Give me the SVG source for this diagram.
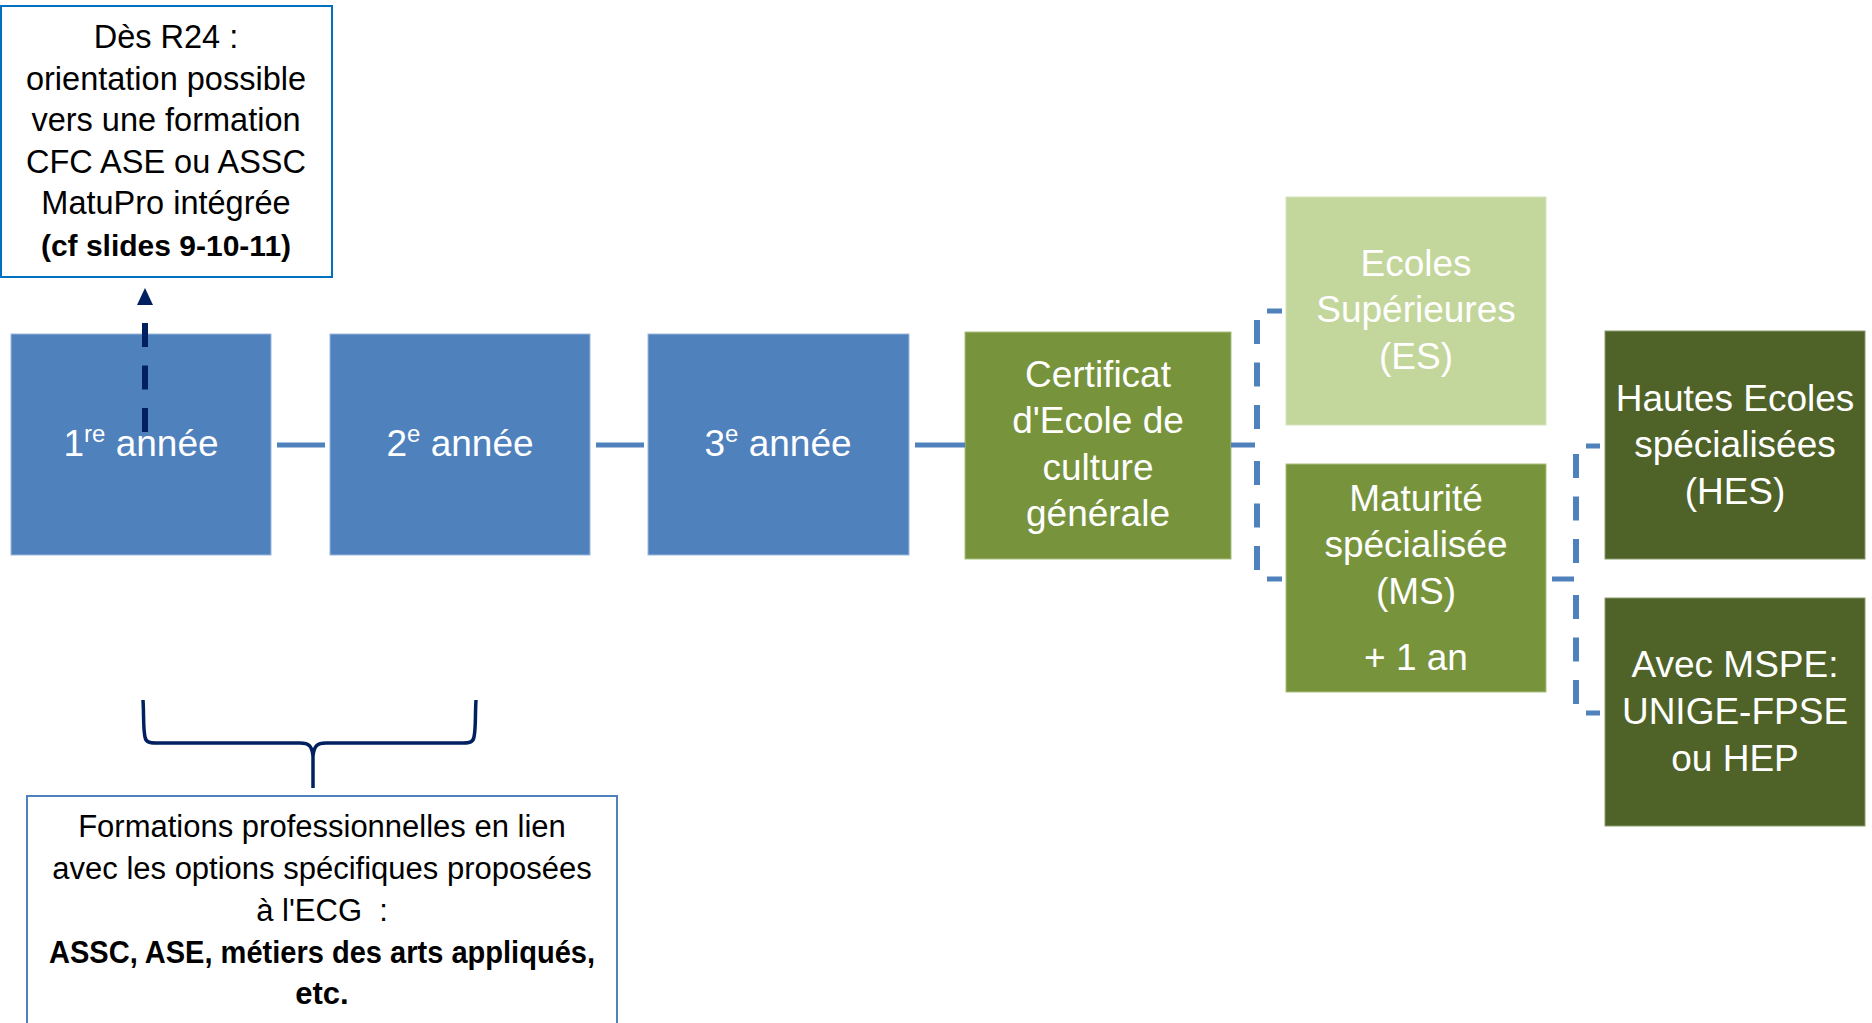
<svg xmlns="http://www.w3.org/2000/svg" width="1872" height="1023" viewBox="0 0 1872 1023">
<style>
.t{font-family:"Liberation Sans",Arial,sans-serif;text-anchor:middle}
.w{fill:#ffffff;font-size:37px}
.k{fill:#000000;font-size:31px}
.kt{fill:#000000;font-size:32.5px}
.b{font-weight:bold}
.blue{fill:#4F81BD;stroke:#9bb7dc;stroke-width:1}
.green{fill:#77933C;stroke:#a9bf7d;stroke-width:1}
.light{fill:#C3D69B;stroke:#d6e3bd;stroke-width:1}
.dark{fill:#4F6228;stroke:#8a9a6c;stroke-width:1}
.solid{stroke:#4F81BD;stroke-width:5;fill:none}
.vd{stroke:#4F81BD;stroke-width:6;fill:none;stroke-dasharray:24 18.5}
</style>
<rect width="1872" height="1023" fill="#ffffff"/>

<g id="note-top">
<rect x="1" y="6" width="331" height="271" fill="#ffffff" stroke="#0070C0" stroke-width="2"/>
<text class="t kt" x="166" y="48">Dès R24 :</text>
<text class="t kt" x="166" y="90">orientation possible</text>
<text class="t kt" x="166" y="131">vers une formation</text>
<text class="t kt" x="166" y="173">CFC ASE ou ASSC</text>
<text class="t kt" x="166" y="214">MatuPro intégrée</text>
<text class="t k b" x="166" y="256" style="font-size:30px">(cf slides 9-10-11)</text>
</g>

<g id="annee1">
<rect class="blue" x="11" y="334" width="260" height="221"/>
<text class="t w" x="141" y="456">1<tspan font-size="24" dy="-14">re</tspan><tspan dy="14"> année</tspan></text>
</g>
<g id="annee2">
<rect class="blue" x="330" y="334" width="260" height="221"/>
<text class="t w" x="460" y="456">2<tspan font-size="24" dy="-14">e</tspan><tspan dy="14"> année</tspan></text>
</g>
<g id="annee3">
<rect class="blue" x="648" y="334" width="261" height="221"/>
<text class="t w" x="778" y="456">3<tspan font-size="24" dy="-14">e</tspan><tspan dy="14"> année</tspan></text>
</g>

<g id="certificat">
<rect class="green" x="965" y="332" width="266" height="227"/>
<text class="t w" x="1098" y="387">Certificat</text>
<text class="t w" x="1098" y="433">d'Ecole de</text>
<text class="t w" x="1098" y="480">culture</text>
<text class="t w" x="1098" y="526">générale</text>
</g>

<g id="es">
<rect class="light" x="1286" y="197" width="260" height="228"/>
<text class="t w" x="1416" y="276">Ecoles</text>
<text class="t w" x="1416" y="322">Supérieures</text>
<text class="t w" x="1416" y="369">(ES)</text>
</g>

<g id="ms">
<rect class="green" x="1286" y="464" width="260" height="228"/>
<text class="t w" x="1416" y="511">Maturité</text>
<text class="t w" x="1416" y="557">spécialisée</text>
<text class="t w" x="1416" y="604">(MS)</text>
<text class="t w" x="1416" y="670">+ 1 an</text>
</g>

<g id="hes">
<rect class="dark" x="1605" y="331" width="260" height="228"/>
<text class="t w" x="1735" y="411">Hautes Ecoles</text>
<text class="t w" x="1735" y="457">spécialisées</text>
<text class="t w" x="1735" y="504">(HES)</text>
</g>

<g id="mspe">
<rect class="dark" x="1605" y="598" width="260" height="228"/>
<text class="t w" x="1735" y="677">Avec MSPE:</text>
<text class="t w" x="1735" y="724">UNIGE-FPSE</text>
<text class="t w" x="1735" y="771">ou HEP</text>
</g>

<g id="note-bottom">
<rect x="27" y="796" width="590" height="240" fill="#ffffff" stroke="#4F81BD" stroke-width="2"/>
<text class="t k" x="322" y="837">Formations professionnelles en lien</text>
<text class="t k" x="322" y="879">avec les options spécifiques proposées</text>
<text class="t k" x="322" y="921">à l'ECG&#160; :</text>
<text class="t k b" x="322" y="963" textLength="546" lengthAdjust="spacingAndGlyphs">ASSC, ASE, métiers des arts appliqués,</text>
<text class="t k b" x="322" y="1004">etc.</text>
</g>

<g id="connectors">
<line class="solid" x1="277" y1="445" x2="325" y2="445"/>
<line class="solid" x1="596" y1="445" x2="644" y2="445"/>
<line class="solid" x1="915" y1="445" x2="965" y2="445"/>
<line class="solid" x1="1231" y1="445" x2="1255" y2="445"/>
<line class="solid" x1="1267" y1="311" x2="1282" y2="311"/>
<line class="solid" x1="1267" y1="579" x2="1282" y2="579"/>
<line class="vd" x1="1257" y1="320" x2="1257" y2="430"/>
<line class="vd" x1="1257" y1="461" x2="1257" y2="571"/>
<line class="solid" x1="1552" y1="579" x2="1574" y2="579"/>
<line class="solid" x1="1586" y1="446" x2="1600" y2="446"/>
<line class="solid" x1="1586" y1="713" x2="1600" y2="713"/>
<line class="vd" x1="1576" y1="454" x2="1576" y2="564"/>
<line class="vd" x1="1576" y1="595" x2="1576" y2="705"/>
<line x1="145" y1="323" x2="145" y2="433" stroke="#002060" stroke-width="6" stroke-dasharray="24 18.5"/>
<path d="M137 305 L145 288 L153 305 Z" fill="#002060"/>
<path d="M143 700 C144 715 143 728 145 737 C146 742 149 743 156 743 L300 743 C309 743 312 746 313 756 L313 788 M476 700 C475 715 476 728 474 737 C473 742 470 743 463 743 L326 743 C317 743 314 746 313 756" fill="none" stroke="#002060" stroke-width="3.5"/>
</g>
</svg>
